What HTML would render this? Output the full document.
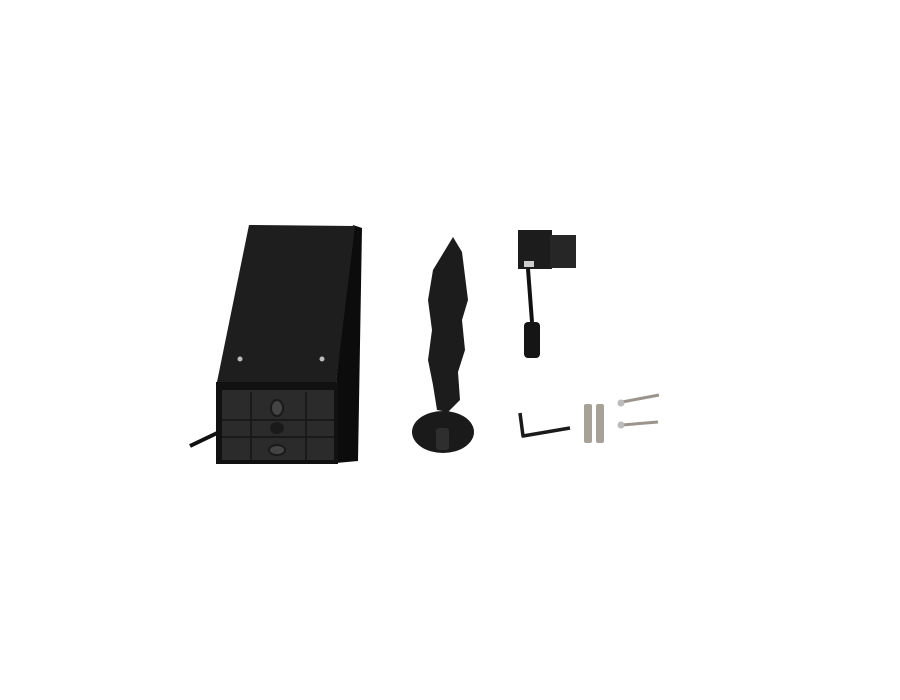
<!DOCTYPE html>
<html><head><style>html,body{margin:0;padding:0;background:#fff;width:900px;height:700px;overflow:hidden}</style></head>
<body>
<svg width="900" height="700" viewBox="0 0 900 700" xmlns="http://www.w3.org/2000/svg">
<rect width="900" height="700" fill="#fff"/>
<!-- cable -->
<path d="M190 446 L236 424" stroke="#111" stroke-width="4" fill="none"/>
<!-- box side dark -->
<polygon points="353,225 362,228 358,461 336,463 336,383" fill="#0c0c0c"/>
<!-- top face -->
<polygon points="249,225 355,226 336,383 217,382" fill="#1e1e1e"/>
<!-- front base -->
<rect x="216" y="382" width="122" height="82" fill="#111"/>
<rect x="222" y="390" width="112" height="70" fill="#2b2b2b"/>
<g stroke="#1a1a1a" stroke-width="2" fill="none">
<line x1="251" y1="392" x2="251" y2="460"/><line x1="306" y1="392" x2="306" y2="460"/>
<line x1="222" y1="420" x2="334" y2="420"/><line x1="222" y1="437" x2="334" y2="437"/>
</g>
<ellipse cx="277" cy="408" rx="6" ry="8" fill="#444" stroke="#1a1a1a" stroke-width="2"/>
<ellipse cx="277" cy="450" rx="8" ry="5" fill="#444" stroke="#1a1a1a" stroke-width="2"/>
<ellipse cx="277" cy="428" rx="7" ry="6" fill="#1a1a1a"/>
<circle cx="240" cy="359" r="2.5" fill="#bbb"/><circle cx="322" cy="359" r="2.5" fill="#bbb"/>
<!-- spike -->
<polygon points="453,237 462,252 468,300 462,320 465,350 458,372 460,400 448,412 437,410 433,385 428,360 432,330 428,300 433,270" fill="#1c1c1c"/>
<ellipse cx="443" cy="432" rx="31" ry="21" fill="#1a1a1a"/>
<rect x="436" y="428" width="13" height="22" rx="3" fill="#2e2e2e"/>
<!-- connector -->
<rect x="518" y="230" width="34" height="39" fill="#1c1c1c"/>
<rect x="550" y="235" width="26" height="33" fill="#262626"/>
<rect x="524" y="261" width="10" height="6" fill="#ccc"/>
<path d="M528 269 L532 322" stroke="#111" stroke-width="4" fill="none"/>
<rect x="524" y="322" width="16" height="36" rx="4" fill="#151515"/>
<!-- allen key -->
<path d="M520 413 L523 436 L570 428" stroke="#1a1a1a" stroke-width="3.5" fill="none" stroke-linejoin="round"/>
<!-- anchors -->
<rect x="584" y="404" width="8" height="39" rx="2" fill="#a8a198"/>
<rect x="596" y="404" width="8" height="39" rx="2" fill="#a8a198"/>
<!-- screws -->
<path d="M622 402 L659 395" stroke="#9a948c" stroke-width="3"/>
<circle cx="621" cy="403" r="3.5" fill="#bbb"/>
<path d="M622 425 L658 422" stroke="#9a948c" stroke-width="3"/>
<circle cx="621" cy="425" r="3.5" fill="#bbb"/>
</svg>
</body></html>
